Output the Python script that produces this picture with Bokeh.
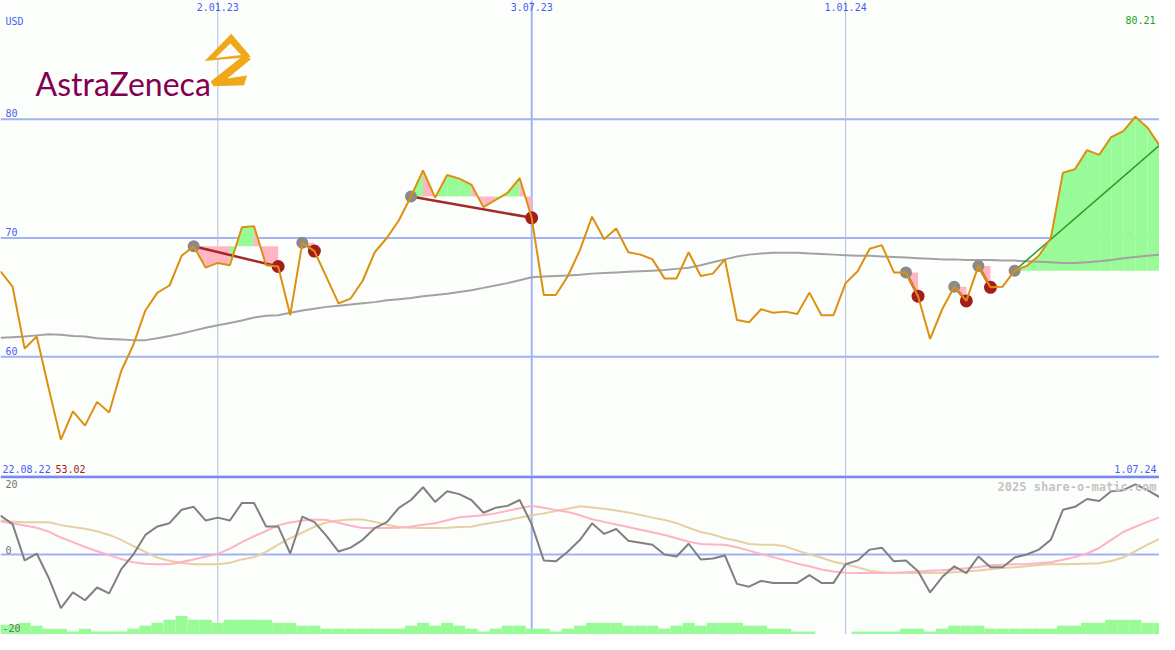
import numpy as np
import pandas as pd
from bokeh.plotting import figure
from bokeh.models import Range1d, Span, Label, PolyAnnotation, ColumnDataSource
from bokeh.layouts import column
from bokeh.embed import file_html
from bokeh.resources import INLINE

# ---------------- data ----------------
start_date = "2022-08-29"
end_date = "2024-07-01"
n_weeks = 97
dates = pd.date_range(start_date, periods=n_weeks, freq="7D")

price = [
    67.2, 65.9, 60.7, 61.7, 57.3, 53.02, 55.4, 54.2, 56.2, 55.3,
    58.8, 61.0, 63.9, 65.4, 66.0, 68.5, 69.3, 67.5, 67.9, 67.7,
    70.9, 71.0, 67.7, 67.6, 63.5, 69.6, 68.9, 66.7, 64.5, 64.9,
    66.4, 68.8, 70.0, 71.5, 73.5, 75.7, 73.4, 75.3, 75.0, 74.5,
    72.6, 73.2, 73.8, 75.05, 71.7, 65.2, 65.2, 66.8, 69.0, 71.8,
    69.9, 70.8, 68.8, 68.6, 68.2, 66.6, 66.6, 68.8, 66.8, 67.0,
    68.2, 63.1, 62.9, 64.0, 63.7, 63.8, 63.6, 65.4, 63.5, 63.5,
    66.2, 67.2, 69.1, 69.4, 67.1, 67.1, 65.1, 61.5, 64.0, 65.9,
    64.7, 67.65, 65.85, 65.9, 67.25, 67.65, 68.5, 70.0, 75.5, 75.8,
    77.4, 77.0, 78.5, 79.0, 80.21, 79.3, 77.8,
]

moving_avg = [
    61.6, 61.65, 61.7, 61.8, 61.9, 61.85, 61.75, 61.7, 61.55, 61.5,
    61.45, 61.4, 61.4, 61.55, 61.75, 61.95, 62.2, 62.45, 62.65, 62.85,
    63.05, 63.3, 63.45, 63.5, 63.7, 63.9, 64.05, 64.2, 64.3, 64.4,
    64.5, 64.6, 64.75, 64.85, 64.95, 65.1, 65.2, 65.3, 65.45, 65.6,
    65.8, 66.0, 66.2, 66.45, 66.7, 66.75, 66.8, 66.85, 66.9, 67.0,
    67.05, 67.1, 67.15, 67.2, 67.25, 67.3, 67.4, 67.5, 67.7, 67.95,
    68.2, 68.45, 68.6, 68.7, 68.75, 68.75, 68.75, 68.7, 68.65, 68.6,
    68.55, 68.5, 68.5, 68.45, 68.4, 68.35, 68.3, 68.25, 68.2, 68.2,
    68.15, 68.15, 68.15, 68.1, 68.1, 68.05, 68.0, 67.95, 67.9, 67.9,
    67.95, 68.05, 68.15, 68.3, 68.4, 68.5, 68.6,
]

momentum = [
    11.9, 9.3, -1.8, 0.3, -7.2, -16.4, -11.6, -14.0, -10.1, -11.9,
    -4.5, 0.0, 6.0, 8.6, 9.6, 13.7, 14.6, 10.4, 11.3, 10.4,
    15.8, 15.8, 8.6, 8.6, 0.3, 11.6, 9.9, 5.7, 0.9, 2.1,
    4.5, 8.1, 9.9, 14.3, 16.7, 20.6, 16.1, 19.4, 18.5, 16.7,
    12.8, 14.3, 14.9, 16.7, 9.25, -1.8, -2.1, 0.9, 4.5, 9.55,
    6.3, 7.8, 4.2, 3.6, 3.0, 0.0, -0.6, 3.3, -1.5, -1.2,
    -0.3, -9.0, -9.85, -8.1, -8.7, -8.7, -8.7, -6.3, -8.7, -8.7,
    -3.0, -1.8, 1.5, 2.1, -2.1, -1.8, -5.1, -11.6, -6.9, -3.6,
    -5.7, -0.6, -3.9, -3.9, -0.9, 0.0, 1.5, 4.5, 13.7, 14.6,
    17.0, 16.4, 19.4, 19.7, 21.5, 19.7, 17.6,
]

signal_fast = [
    10.1, 9.6, 8.9, 8.2, 7.0, 5.2, 3.8, 2.3, 1.0, -0.2,
    -1.4, -2.4, -2.8, -3.0, -3.0, -2.3, -1.5, -0.6, 0.2, 1.8,
    3.8, 5.6, 7.2, 9.0, 9.8, 10.4, 10.7, 10.6, 9.7, 8.8,
    8.1, 8.1, 8.1, 8.2, 8.6, 9.1, 9.6, 10.5, 11.4, 11.7,
    12.0, 12.6, 13.4, 14.2, 14.9, 14.3, 13.6, 13.0, 12.0, 10.8,
    10.0, 9.2, 8.4, 7.6, 6.8, 6.0, 5.0, 3.9, 3.2, 3.1,
    3.0, 2.2, 1.2, 0.2, -0.8, -1.8, -2.8, -3.6, -4.6, -5.2,
    -5.6, -5.7, -5.7, -5.7, -5.6, -5.4, -5.2, -5.0, -4.8, -4.5,
    -4.2, -3.8, -3.3, -3.1, -3.0, -2.9, -2.7, -2.4, -1.6, -0.8,
    0.3, 2.0, 4.5, 6.9, 8.5, 10.0, 11.4,
]

signal_slow = [
    10.4, 10.1, 9.9, 9.9, 9.9, 9.0, 8.4, 7.9, 7.1, 6.0,
    4.5, 2.6, 0.8, -1.0, -1.9, -2.6, -3.0, -3.0, -3.0, -2.5,
    -1.5, -0.8, 0.8, 3.0, 5.0, 6.7, 8.5, 9.8, 10.4, 10.7,
    10.7, 10.0, 9.1, 8.4, 8.2, 8.1, 8.1, 8.2, 8.4, 8.5,
    9.3, 9.9, 10.5, 11.3, 12.0, 12.6, 13.3, 14.0, 14.8, 14.4,
    14.0, 13.5, 12.9, 12.1, 11.3, 10.6, 9.6, 8.2, 6.9, 6.1,
    5.0, 4.2, 3.2, 3.0, 3.0, 2.5, 1.2, 0.1, -1.0, -2.2,
    -3.0, -3.9, -5.0, -5.4, -5.6, -5.7, -5.7, -5.7, -5.6, -5.4,
    -5.2, -4.9, -4.5, -4.1, -3.9, -3.6, -3.2, -3.0, -3.0, -2.9,
    -2.8, -2.7, -2.0, -0.9, 1.0, 3.0, 4.8,
]

volume = [
    10, 10, 12, 9, 6, 6, 3, 6, 3, 3,
    3, 6, 9, 12, 15, 19, 15, 15, 12, 15,
    15, 15, 15, 12, 12, 9, 9, 6, 6, 6,
    6, 6, 6, 6, 9, 12, 9, 12, 9, 6,
    3, 6, 9, 9, 6, 6, 3, 6, 9, 12,
    12, 12, 9, 9, 9, 6, 9, 12, 9, 12,
    12, 12, 9, 9, 6, 6, 3, 3, 0, 0,
    0, 3, 3, 3, 3, 6, 6, 3, 6, 9,
    9, 9, 6, 6, 6, 6, 6, 6, 9, 9,
    12, 12, 15, 15, 15, 12, 12,
]

closed_signals = [(16, 23), (25, 26), (34, 44), (75, 76), (79, 80), (81, 82)]
open_signal = 84

price_ticks = [60, 70, 80]
osc_ticks = [20, 0, -20]
date_ticks = ["2023-01-02", "2023-07-03", "2024-01-01"]
date_tick_labels = ["2.01.23", "3.07.23", "1.01.24"]
first_date_label = "22.08.22"
last_date_label = "1.07.24"
currency = "USD"
company = "AstraZeneca"
watermark = "2025 share-o-matic.com"

# ---------------- style ----------------
W, HT, HB = 1159, 475, 159
BG = "#fcfefc"
GRID = "#a4b2f4"
GRID_THIN = "#b4bce2"
SEP = "#7a88ec"
BLUE_TXT = "#4a5cf0"
ORANGE = "#dc9010"
GREEN_FILL = "#98fb98"
PINK_FILL = "#ffb6c1"
MONO = "DejaVu Sans Mono"
tick_line_widths = [1, 2, 1]
SY = HT / 487.0
SX = W / 1175.0


def ms(s):
    return pd.Timestamp(s).value / 1e6


x = dates.asi8 / 1e6
x_range = Range1d(ms(start_date), ms(end_date))

# ---------------- top panel ----------------
p = figure(width=W, height=HT, x_range=x_range, y_range=Range1d(50, 90),
           output_backend="svg", toolbar_location=None,
           x_axis_location=None, y_axis_location=None, min_border=0,
           background_fill_color=BG, border_fill_color=BG, outline_line_color=None)
p.xgrid.visible = False
p.ygrid.visible = False

for v in price_ticks:
    p.add_layout(Span(location=v, dimension="width", line_color=GRID,
                      line_width=2, level="underlay"))
for d, lw in zip(date_ticks, tick_line_widths):
    p.add_layout(Span(location=ms(d), dimension="height",
                      line_color=GRID if lw > 1 else GRID_THIN,
                      line_width=lw, level="underlay"))

# signal fills
fx, fy, fc = [], [], []
segs = list(closed_signals) + [(open_signal, n_weeks - 1)]
for s, e in segs:
    b = price[s]
    for k in range(s, e):
        fx.append([x[k], x[k], x[k + 1], x[k + 1]])
        fy.append([b, price[k], price[k + 1], b])
        fc.append(GREEN_FILL if price[k + 1] >= b else PINK_FILL)
p.patches("xs", "ys", fill_color="c", line_color=None,
          source=ColumnDataSource(dict(xs=fx, ys=fy, c=fc)))

p.line(x, moving_avg, line_color="#a2a2a2", line_width=2)

bx = [[x[s], x[e]] for s, e in closed_signals]
by = [[price[s], price[e]] for s, e in closed_signals]
p.multi_line(bx, by, line_color="#a52828", line_width=2.5)
p.line([x[open_signal], x[-1]], [price[open_signal], price[-1]],
       line_color="#2a9a2a", line_width=1.5)

starts = [s for s, e in closed_signals] + [open_signal]
ends = [e for s, e in closed_signals]
p.scatter([x[i] for i in starts], [price[i] for i in starts], size=12,
          fill_color="#8a8a8a", line_color=None)
p.scatter([x[i] for i in ends], [price[i] for i in ends], size=13,
          fill_color="#a51c1c", line_color=None)

p.line(x, price, line_color=ORANGE, line_width=2)


def lab(fig, text, xx, yy, color, size="10px", align="left", baseline="middle",
        xu="screen", yu="screen", xo=0, yo=0, font=MONO, style="normal"):
    fig.add_layout(Label(x=xx, y=yy, x_units=xu, y_units=yu, text=text,
                         text_color=color, text_font_size=size, text_align=align,
                         text_baseline=baseline, x_offset=xo, y_offset=yo,
                         text_font=font, text_font_style=style))


for v in price_ticks:
    lab(p, str(v), 5, v, BLUE_TXT, yu="data", baseline="bottom", yo=2)
for d, t in zip(date_ticks, date_tick_labels):
    lab(p, t, ms(d), HT - 2, BLUE_TXT, xu="data", align="center", baseline="top")
lab(p, currency, 5, HT - 15, BLUE_TXT, baseline="top")
lab(p, f"{max(price):.2f}", W - 4, HT - 15, "#22a022", align="right", baseline="top")
lab(p, first_date_label, 2, 3, BLUE_TXT, baseline="bottom")
lab(p, f"{min(price):.2f}", 55, 3, "#a02020", baseline="bottom")
lab(p, last_date_label, W - 3, 3, BLUE_TXT, align="right", baseline="bottom")

# logo
lab(p, company, 35, HT - 85 * SY, "#830051", size="32px", baseline="alphabetic",
    font="Lato")


def poly(pts, color):
    p.add_layout(PolyAnnotation(xs=[a * SX for a, _ in pts],
                                ys=[HT - b * SY for _, b in pts],
                                xs_units="screen", ys_units="screen",
                                fill_color=color, fill_alpha=1.0, line_color=None))


LOGO_GOLD = "#f0a818"
poly([(234, 34), (207, 62), (254, 58)], LOGO_GOLD)
poly([(233, 44), (218, 59), (244, 56)], BG)
poly([(247, 56), (254, 60), (230, 80), (250, 77), (247, 87), (216, 88), (213, 83)], LOGO_GOLD)

# ---------------- bottom panel ----------------
q = figure(width=W, height=HB, x_range=x_range, y_range=Range1d(-24.5, 24.2),
           output_backend="svg", toolbar_location=None,
           x_axis_location=None, y_axis_location=None, min_border=0,
           background_fill_color=BG, border_fill_color=BG, outline_line_color=None)
q.xgrid.visible = False
q.ygrid.visible = False
q.extra_y_ranges = {"vol": Range1d(0, 163)}

q.vbar(x=x, width=7 * 86400000, top=volume, bottom=0, y_range_name="vol",
       fill_color=GREEN_FILL, line_color=None)
q.add_layout(Span(location=0, dimension="width", line_color=GRID,
                  line_width=2, level="underlay"))
for d, lw in zip(date_ticks, tick_line_widths):
    q.add_layout(Span(location=ms(d), dimension="height",
                      line_color=GRID if lw > 1 else GRID_THIN,
                      line_width=lw, level="underlay"))
q.add_layout(Span(location=23.8, dimension="width", line_color=SEP, line_width=3))

q.line(x, signal_slow, line_color="#e6d0a2", line_width=2)
q.line(x, signal_fast, line_color="#ffb2c4", line_width=2)
q.line(x, momentum, line_color="#808080", line_width=2)

lab(q, str(osc_ticks[0]), 5, osc_ticks[0], "#707070", yu="data", baseline="bottom", yo=1)
lab(q, str(osc_ticks[1]), 5, osc_ticks[1], "#707070", yu="data", baseline="bottom", yo=1)
lab(q, str(osc_ticks[2]), 2, osc_ticks[2], "#707070", yu="data", baseline="bottom", yo=-12)
lab(q, watermark, W - 3, HB - 4, "#c4c4c4", size="12px", align="right",
    baseline="top", style="bold")

layout = column(p, q, spacing=0)
open("out.html", "w").write(file_html(layout, INLINE))
